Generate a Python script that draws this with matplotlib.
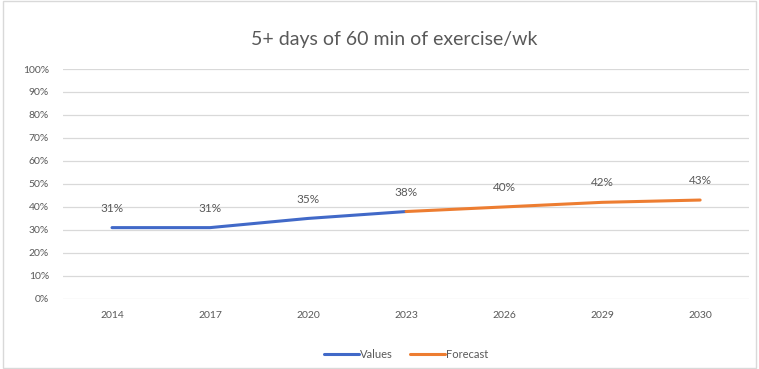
import matplotlib.pyplot as plt
from matplotlib.patches import Rectangle
import numpy as np

plt.rcParams["font.family"] = ["Lato", "DejaVu Sans"]

years = ["2014", "2017", "2020", "2023", "2026", "2029", "2030"]
values = [31, 31, 35, 38]            # 2014-2023
forecast = [38, 40, 42, 43]          # 2023-2030
labels = ["31%", "31%", "35%", "38%", "40%", "42%", "43%"]
label_vals = [31, 31, 35, 38, 40, 42, 43]

BLUE = "#4169c8"
ORANGE = "#ed7d31"
GREY = "#595959"

fig = plt.figure(figsize=(7.59, 3.69), dpi=100)
fig.patches.append(Rectangle((0.004, 0.004), 0.992, 0.992, transform=fig.transFigure,
                             fill=False, edgecolor="#d9d9d9", linewidth=1.0))
ax = fig.add_axes([0.083, 0.19, 0.904, 0.623])

x = np.arange(len(years))
ax.plot(x[:4], values, color=BLUE, linewidth=2.2, solid_capstyle="round", label="Values", zorder=3)
ax.plot(x[3:], forecast, color=ORANGE, linewidth=2.2, solid_capstyle="round", label="Forecast", zorder=3)

for xi, v, t in zip(x, label_vals, labels):
    ax.annotate(t, (xi, v), xytext=(0, 10), textcoords="offset points",
                ha="center", va="bottom", fontsize=8.5, color=GREY)

ax.set_xlim(-0.5, len(years) - 0.5)
ax.set_ylim(0, 100)
ax.set_yticks(np.arange(0, 101, 10))
ax.set_yticklabels([f"{v}%" for v in range(0, 101, 10)])
ax.set_xticks(x)
ax.set_xticklabels(years)
ax.tick_params(axis="both", length=0, labelsize=7.5, colors=GREY)
ax.tick_params(axis="x", pad=9)
ax.tick_params(axis="y", pad=10)
ax.grid(axis="y", color="#d9d9d9", linewidth=0.9)
ax.set_axisbelow(True)
for s in ax.spines.values():
    s.set_visible(False)

fig.text(0.52, 0.893, "5+ days of 60 min of exercise/wk", ha="center", va="center",
         fontsize=14, color=GREY)

ax.legend(loc="center", bbox_to_anchor=(0.5, -0.24), ncol=2, frameon=False,
          fontsize=8, labelcolor=GREY, handlelength=3.2, handletextpad=0.1,
          columnspacing=1.5)

fig.savefig("out.png", dpi=100)
